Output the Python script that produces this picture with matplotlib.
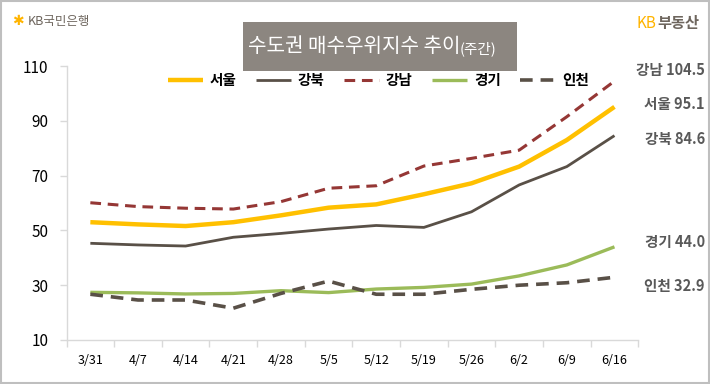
import matplotlib
matplotlib.use("Agg")
import matplotlib.pyplot as plt
from matplotlib.patches import Rectangle
import numpy as np

plt.rcParams['font.family'] = ['Noto Sans CJK KR', 'DejaVu Sans']

weeks = ["3/31", "4/7", "4/14", "4/21", "4/28", "5/5", "5/12", "5/19", "5/26", "6/2", "6/9", "6/16"]
seoul    = [53.0, 52.2, 51.6, 53.0, 55.5, 58.3, 59.5, 63.2, 67.2, 73.3, 83.0, 95.1]
gangbuk  = [45.3, 44.7, 44.3, 47.5, 48.9, 50.5, 51.8, 51.1, 56.8, 66.6, 73.3, 84.6]
gangnam  = [60.1, 58.7, 58.1, 57.8, 60.5, 65.4, 66.3, 73.5, 76.3, 79.3, 91.5, 104.5]
gyeonggi = [27.4, 27.2, 26.8, 27.0, 28.0, 27.3, 28.6, 29.2, 30.4, 33.4, 37.4, 44.0]
incheon  = [26.7, 24.6, 24.6, 21.6, 27.0, 31.5, 26.7, 26.7, 28.5, 30.0, 30.9, 32.9]
names = ["서울", "강북", "강남", "경기", "인천"]
yticks = [10, 30, 50, 70, 90, 110]

fig = plt.figure(figsize=(7.10, 3.84), dpi=100)
fig.patch.set_facecolor('white')
# outer frame
fig.add_artist(Rectangle((0.002, 0.003), 0.996, 0.994, transform=fig.transFigure,
                         fill=False, edgecolor='#BFBFBF', linewidth=1.5))

ax = fig.add_axes([0.0937, 0.1146, 0.899 - 0.0937, 0.828 - 0.1146])
ax.patch.set_alpha(0)
x = np.arange(len(weeks))
l1, = ax.plot(x, seoul, color='#FFC000', lw=3.2, label=names[0], solid_capstyle='butt')
l2, = ax.plot(x, gangbuk, color='#595047', lw=2.0, label=names[1], solid_capstyle='butt')
l3, = ax.plot(x, gangnam, color='#953735', lw=2.2, ls=(0, (3.5, 2.2)), label=names[2])
l4, = ax.plot(x, gyeonggi, color='#9BBB59', lw=2.4, label=names[3], solid_capstyle='butt')
l5, = ax.plot(x, incheon, color='#595047', lw=2.6, ls=(0, (3.5, 2.2)), label=names[4])

ax.set_xlim(-0.5, len(weeks) - 0.5)
ax.set_ylim(10, 110)
ax.set_yticks(yticks)
ax.set_yticklabels([str(v) for v in yticks], fontsize=11, color='#000000')
ax.set_xticks(x)
ax.set_xticklabels(weeks, fontsize=9, color='#000000')
ax.set_xticks(np.arange(-0.5, len(weeks), 1.0), minor=True)
ax.tick_params(axis='x', which='major', length=0, pad=10)
ax.tick_params(axis='x', which='minor', length=5, color='#D9D9D9', width=1)
ax.tick_params(axis='y', length=5, color='#D9D9D9', width=1, pad=8)
for s in ['top', 'right']:
    ax.spines[s].set_visible(False)
for s in ['left', 'bottom']:
    ax.spines[s].set_color('#D9D9D9')
    ax.spines[s].set_linewidth(1)

leg = ax.legend(handles=[l1, l2, l3, l4, l5], loc='center', ncol=5, frameon=False,
                bbox_to_anchor=(0.545, 0.95), fontsize=10.5, handlelength=2.4,
                columnspacing=1.3, handletextpad=0.5)
for t in leg.get_texts():
    t.set_fontweight('bold')

# end labels
series = [gangnam, seoul, gangbuk, gyeonggi, incheon]
lbl_names = ["강남", "서울", "강북", "경기", "인천"]
label_y = [108.5, 96.2, 83.2, 45.6, 29.6]
for nm, s, yy in zip(lbl_names, series, label_y):
    ax.annotate(f"{nm} {s[-1]:.1f}", xy=(1.0, yy), xycoords=('axes fraction', 'data'),
                xytext=(48, 0), textcoords='offset points', ha='right', va='center',
                fontsize=10.5, fontweight='bold', color='#595959', annotation_clip=False)

# title box
fig.add_artist(Rectangle((243 / 710, 1 - 71 / 384), (517 - 243) / 710, (71 - 22) / 384,
                         transform=fig.transFigure, facecolor='#8C8680', edgecolor='none',
                         zorder=-1))
fig.text(248 / 710, 1 - 47 / 384, "수도권 매수우위지수 추이", ha='left', va='center',
         fontsize=14.5, color='white', fontweight='medium')
fig.text(460 / 710, 1 - 49 / 384, "(주간)", ha='left', va='center',
         fontsize=10.5, color='white')

# logos
fig.text(12 / 710, 1 - 21 / 384, "✱", ha='left', va='center', fontsize=10, color='#FFB400',
         family=['DejaVu Sans'])
fig.text(28 / 710, 1 - 21 / 384, "KB국민은행", ha='left', va='center', fontsize=9, color='#6E665E')
fig.text(637 / 710, 1 - 23 / 384, "KB", ha='left', va='center', fontsize=11, color='#FFB400',
         fontweight='medium')
fig.text(657 / 710, 1 - 23 / 384, "부동산", ha='left', va='center', fontsize=11, color='#6E665E',
         fontweight='bold')

fig.savefig("out.png", dpi=100, facecolor='white')
